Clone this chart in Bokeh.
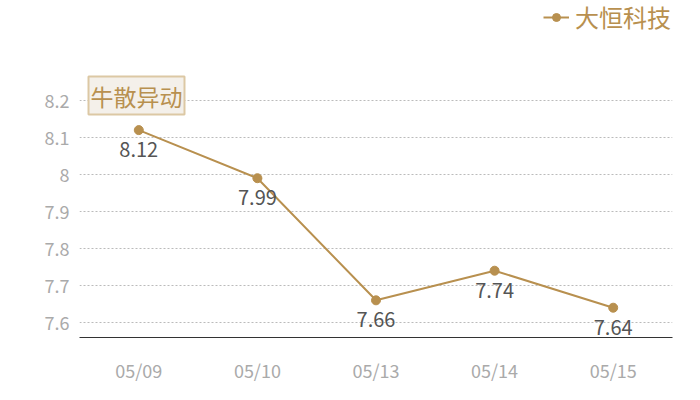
from bokeh.plotting import figure
from bokeh.models import ColumnDataSource, LabelSet, Label, Legend, LegendItem, FixedTicker
from bokeh.embed import file_html
from bokeh.resources import INLINE
from bokeh.core.properties import value

dates = ["05/09", "05/10", "05/13", "05/14", "05/15"]
prices = [8.12, 7.99, 7.66, 7.74, 7.64]
series_name = "大恒科技"
annotation_text = "牛散异动"
y_ticks = [7.6, 7.7, 7.8, 7.9, 8.0, 8.1, 8.2]

GOLD = "#b8904f"
FONT = "Noto Sans CJK SC"

src = ColumnDataSource(dict(x=dates, y=prices, lbl=[f"{v:g}" for v in prices]))

# frame spans the full height so the legend (drawn inside the frame) sits at the top
p = figure(width=700, height=400, x_range=dates, y_range=(7.5595, 8.4703),
           output_backend="svg", toolbar_location=None,
           min_border_left=79, min_border_right=28, min_border_bottom=63, min_border_top=0,
           outline_line_color=None, background_fill_color="white", border_fill_color="white")

r_line = p.line("x", "y", source=src, line_color=GOLD, line_width=2)
r_pts = p.scatter("x", "y", source=src, size=9, fill_color=GOLD, line_color=GOLD)

labels = LabelSet(x="x", y="y", text="lbl", source=src, y_offset=-12,
                  text_align="center", text_baseline="top", text_color="#555555",
                  text_font=value(FONT), text_font_size="20px")
p.add_layout(labels)

p.yaxis.ticker = FixedTicker(ticks=y_ticks)
p.yaxis.major_label_overrides = {7.6: "7.6", 7.7: "7.7", 7.8: "7.8", 7.9: "7.9", 8.0: "8", 8.1: "8.1", 8.2: "8.2"}
p.yaxis.axis_line_color = None
p.yaxis.major_tick_line_color = None
p.yaxis.minor_tick_line_color = None
p.yaxis.major_label_text_color = "#aaaaaa"
p.yaxis.major_label_text_font = FONT
p.yaxis.major_label_text_font_size = "18px"
p.yaxis.major_label_standoff = 4

p.xaxis.axis_line_color = "#333333"
p.xaxis.axis_line_width = 1
p.xaxis.major_tick_line_color = None
p.xaxis.minor_tick_line_color = None
p.xaxis.major_label_text_color = "#aaaaaa"
p.xaxis.major_label_text_font = FONT
p.xaxis.major_label_text_font_size = "18px"
p.xaxis.major_label_standoff = 13

p.xgrid.grid_line_color = None
p.ygrid.grid_line_color = "#bbbbbb"
p.ygrid.grid_line_dash = "2 2"
p.ygrid.grid_line_width = 1

ann = Label(x=9, y=223, x_units="screen", y_units="screen", text=annotation_text,
            text_color=GOLD, text_font=FONT, text_font_size="23px",
            background_fill_color="#f4f0ea", border_line_color="#dcc8a4", border_line_width=2,
            padding=2)
p.add_layout(ann)

legend = Legend(items=[LegendItem(label=series_name, renderers=[r_line, r_pts])],
                orientation="horizontal", location=(464, 303),
                label_text_color=GOLD, label_text_font=FONT, label_text_font_size="24px",
                glyph_width=26, glyph_height=20, border_line_color=None, background_fill_alpha=0,
                margin=0, padding=1, label_standoff=6)
p.add_layout(legend)

open("out.html", "w").write(file_html(p, INLINE))
